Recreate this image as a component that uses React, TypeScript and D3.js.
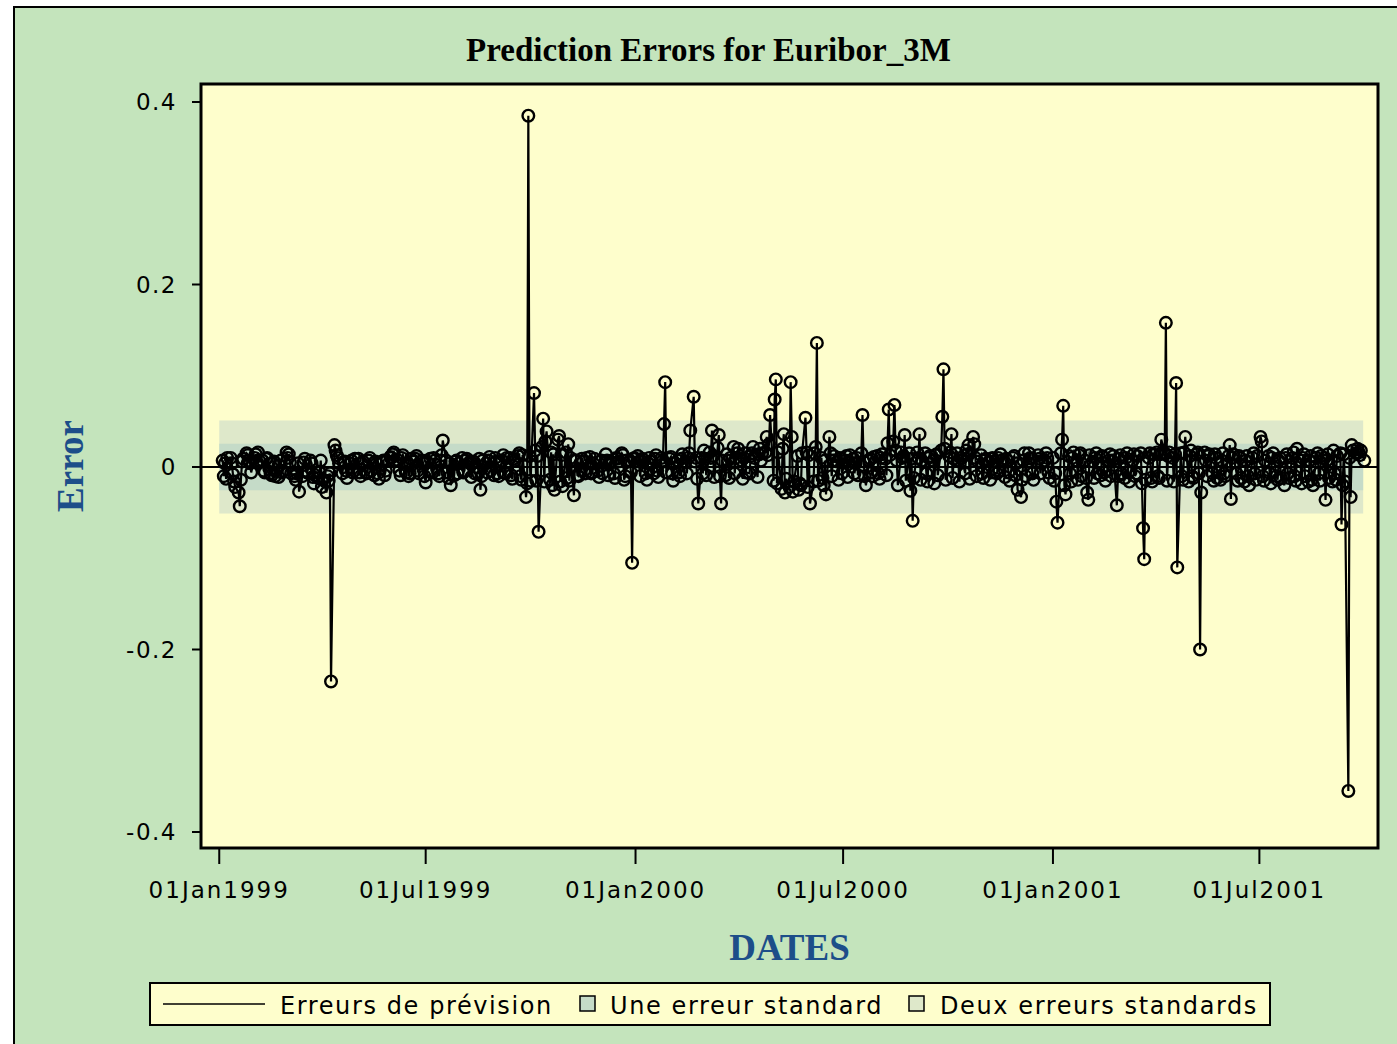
import React from "react";
import * as d3 from "d3";

// ---------- data ----------
// Daily prediction errors, one row per business week (Mon..Fri).
const firstMonday1999 = "1999-01-04";
const weeks1999: number[][] = [
  [.007, -.01, .004, -.013, .01], [.01, .004, -.008, -.016, -.022], [-.028, -.043, -.014, .006, .009],
  [.015, .013, .007, .004, -.006], [.01, .014, .005, .016, .007], [.007, -.004, -.006, .009, .01],
  [-.007, -.009, .004, .006, -.01], [-.011, .002, .007, -.006, -.004], [.016, .01, .014, .005, -.007],
  [-.01, -.014, -.007, .004, -.027], [-.01, .005, .009, -.004, -.006], [.007, .004, -.011, -.018, -.009],
  [-.012, -.006, .007, -.022, -.014], [-.028, -.01, -.015, -.007, -.235], [.024, .018, .013, .01, .004],
  [-.007, .005, .006, -.004, -.012], [.004, .007, -.006, -.004, .009], [.009, -.006, -.01, .004, .006],
  [-.007, -.006, .007, .01, -.004], [-.009, .006, .004, -.007, -.013], [.006, .007, -.009, -.004, .007],
  [.011, .01, .014, .016, .007], [.007, -.004, -.009, .01, .013], [-.006, .004, -.01, -.007, .009],
  [.006, .009, .012, -.004, -.007], [.007, .004, -.01, -.017, .006], [.009, -.004, -.006, .01, .007],
  [-.007, -.01, .007, .013, .029], [.007, -.006, -.012, .004, -.02], [-.009, .006, .007, -.007, .004],
  [.01, -.006, -.004, .007, .009], [.006, -.011, .004, .006, -.007], [-.007, .009, -.025, -.01, .007],
  [.004, -.006, .007, .011, -.004], [-.009, .01, .006, -.007, -.01], [.007, .013, -.006, -.007, .01],
  [.01, -.009, -.013, .009, .007], [.012, .015, -.01, -.014, .013], [-.033, -.018, .385, .012, -.015],
  [.081, .018, -.015, .012, -.071], [.022, .053, -.016, .028, .039], [-.014, .016, -.02, .014, -.025],
  [.03, .034, -.016, .013, -.021], [.016, -.012, .025, -.015, .01], [-.031, .007, .007, -.009, -.01],
  [.009, .006, -.004, -.007, .01], [.011, -.007, -.006, .004, .009], [-.004, -.011, .006, .007, -.007],
  [.014, .007, -.009, .004, .006], [-.007, -.012, .01, .009, .006], [.015, .013, -.014, -.01, .007],
  [.007, -.006, -.105, .009, .01],
];

const firstMonday2000 = "2000-01-03";
const weeks2000: number[][] = [
  [.012, .006, -.01, .007, .009], [-.007, -.014, .004, .01, .006], [-.007, .009, .013, -.004, -.011],
  [.01, .007, .047, .093, -.006], [.009, .011, -.007, -.015, .004], [.007, -.006, -.01, .009, .014],
  [.006, -.007, .01, .015, .04], [.077, .006, .01, -.013, -.04], [.01, -.007, .018, .009, -.009],
  [.016, .01, .04, .012, -.011], [.021, .035, -.01, -.04, .007], [-.009, .014, .007, -.012, .01],
  [.022, -.007, .01, .015, .02], [.007, -.013, .01, .015, -.006], [-.007, .012, .015, .022, .01],
  [-.011, .014, .02, .007, .015], [.016, .033, .013, .025, .057], [-.015, .074, .096, -.018, .016],
  [-.024, .02, .036, -.028, -.013], [-.022, .093, .033, -.027, -.016], [.012, -.025, -.018, -.02, .015],
  [.054, .016, -.022, .013, -.04], [-.016, .015, .022, .136, -.015], [.01, -.012, -.02, .007, -.03],
  [.033, .015, -.01, .007, .012], [.006, -.014, .01, .009, -.007], [.007, .012, -.011, .006, .013],
  [.009, -.007, .004, .01, -.009], [.015, .057, .006, -.01, -.02], [.007, .009, -.006, -.01, .011],
  [.012, -.007, -.013, .01, .014], [.009, -.009, .026, .063, .013], [.028, .068, .018, .007, -.02],
  [.016, .01, .012, .035, -.015], [.015, -.026, .009, -.059, -.012], [.016, .01, .036, -.014, .007],
  [.015, -.007, -.016, .01, .012], [.007, -.018, .013, .014, -.009], [.018, .055, .107, .02, -.014],
  [.012, .016, .036, -.012, .009], [.015, .007, -.016, .01, .01], [-.007, .018, .014, .024, -.013],
  [.033, .025, .01, -.01, .006], [.013, -.007, -.012, .007, .009], [.006, -.014, .009, .01, -.006],
  [-.007, .01, -.004, .014, .007], [-.011, .009, .007, -.006, -.015], [.01, .012, -.009, .004, -.025],
  [-.033, -.014, .007, .015, -.01], [.015, .01, .009, -.007, -.014], [.006, .013, .009, -.007, .004],
  [.007, .015, .01, -.006, -.012],
];

const firstMonday2001 = "2001-01-01";
const weeks2001: number[][] = [
  [.01, -.015, -.007, -.038, -.061], [.015, .03, .067, -.02, -.03], [.012, -.007, -.016, .01, .016],
  [.007, -.014, .013, .015, -.01], [.007, -.012, -.028, -.036, .013], [.006, -.012, .01, .015, -.007],
  [-.009, .012, .011, -.006, -.015], [.007, .014, -.01, .007, .012], [-.042, -.01, .009, .013, -.007],
  [-.012, .01, .015, -.006, -.016], [.007, .014, -.01, -.007, .012], [.015, -.018, -.067, -.101, -.014],
  [.01, .015, -.012, -.016, .014], [.016, -.01, -.012, .014, .03], [.015, .158, -.015, .012, .016],
  [.01, -.016, .014, .092, -.11], [.015, -.01, -.014, .016, .033], [-.016, .012, .018, -.01, -.012],
  [.014, .016, -.007, -.2, -.028], [.016, .007, -.01, .012, .014], [-.007, -.015, .014, .01, -.012],
  [-.014, .007, .015, -.007, -.01], [.012, .024, -.035, .01, .014], [-.007, -.015, .012, .01, -.012],
  [-.016, .007, .012, -.01, -.02], [.01, .015, -.007, -.014, .012], [.033, .028, -.01, -.015, .007],
  [.012, -.007, -.018, .01, .015], [-.01, -.014, .007, .01, -.012], [-.02, .01, .014, -.007, -.012],
  [.01, .016, -.01, -.015, .02], [.007, -.018, .01, .014, -.01], [-.016, .007, .012, -.014, -.02],
  [.01, .015, -.007, -.015, .012], [.01, -.036, .007, .014, -.012], [-.016, .018, -.007, -.014, .012],
  [.015, -.063, -.02, .014, -.016], [-.355, .01, -.033, .024, .018], [.015, .02, .016, .013, .018],
  [.007],
];

const standardError = 0.0255;
const bandStart = "1999-01-01";
const bandEnd = "2001-09-30";
const xDomain = ["1998-12-16", "2001-10-13"];
const xTicks = ["1999-01-01", "1999-07-01", "2000-01-01", "2000-07-01", "2001-01-01", "2001-07-01"];
const yTicks = [-0.4, -0.2, 0, 0.2, 0.4];
const yTickLabels = ["-0.4", "-0.2", "0", "0.2", "0.4"];
const legendLabels = ["Erreurs de prévision", "Une erreur standard", "Deux erreurs standards"];
const titleText = "Prediction Errors for Euribor_3M";

// ---------- styles ----------
const W = 1397;
const H = 1044;
const plot = { left: 201, right: 1378, top: 84, bottom: 848 };
const C = {
  outer: "#C4E4BC",
  plotBg: "#FEFECC",
  band2: "#DEE8CA",
  band1: "#C5DBC8",
  axisLabel: "#1D4E89",
};
const sansFont = "'DejaVu Sans', Verdana, sans-serif";
const serifFont = "'Liberation Serif', 'Times New Roman', serif";

type Pt = { date: Date; value: number };

export default function App() {
  const parse = d3.utcParse("%Y-%m-%d");

  const expand = (monday: string, weeks: number[][]): Pt[] => {
    const start = parse(monday) as Date;
    const out: Pt[] = [];
    weeks.forEach((row, w) =>
      row.forEach((v, i) => out.push({ date: d3.utcDay.offset(start, 7 * w + i), value: v }))
    );
    return out;
  };

  const data: Pt[] = [
    ...expand(firstMonday1999, weeks1999),
    ...expand(firstMonday2000, weeks2000),
    ...expand(firstMonday2001, weeks2001),
  ];

  const x = d3
    .scaleUtc()
    .domain(xDomain.map((d) => parse(d) as Date))
    .range([plot.left, plot.right]);
  const y = d3.scaleLinear().domain([-0.4, 0.4]).range([832, 102]);

  const line = d3
    .line<Pt>()
    .x((d) => x(d.date))
    .y((d) => y(d.value));

  const fmt = d3.utcFormat("%d%b%Y");
  const bx0 = x(parse(bandStart) as Date);
  const bx1 = x(parse(bandEnd) as Date);

  return (
    <svg
      width={W}
      height={H}
      style={{ position: "absolute", left: 0, top: 0, background: "#fff" }}
    >
      <rect x={14} y={7} width={W - 14} height={H - 7} fill={C.outer} />
      <path d={`M14,${H} V7 H${W}`} fill="none" stroke="#000" strokeWidth={2} />

      <text
        x={708.5}
        y={61}
        textAnchor="middle"
        fontFamily={serifFont}
        fontWeight="bold"
        fontSize={33}
        fill="#000"
      >
        {titleText}
      </text>

      <rect
        x={plot.left}
        y={plot.top}
        width={plot.right - plot.left}
        height={plot.bottom - plot.top}
        fill={C.plotBg}
      />

      {/* standard error bands */}
      <rect
        x={bx0}
        y={y(2 * standardError)}
        width={bx1 - bx0}
        height={y(-2 * standardError) - y(2 * standardError)}
        fill={C.band2}
      />
      <rect
        x={bx0}
        y={y(standardError)}
        width={bx1 - bx0}
        height={y(-standardError) - y(standardError)}
        fill={C.band1}
      />

      {/* zero reference */}
      <line x1={plot.left} x2={plot.right} y1={y(0)} y2={y(0)} stroke="#000" strokeWidth={2} />

      {/* series */}
      <path d={line(data) || ""} fill="none" stroke="#000" strokeWidth={2.2} />
      {data.map((d, i) => (
        <circle
          key={i}
          cx={x(d.date)}
          cy={y(d.value)}
          r={5.8}
          fill="none"
          stroke="#000"
          strokeWidth={2.4}
        />
      ))}

      {/* frame */}
      <rect
        x={plot.left}
        y={plot.top}
        width={plot.right - plot.left}
        height={plot.bottom - plot.top}
        fill="none"
        stroke="#000"
        strokeWidth={3}
      />

      {/* y axis */}
      {yTicks.map((t, i) => (
        <g key={t}>
          <line x1={plot.left - 9} x2={plot.left} y1={y(t)} y2={y(t)} stroke="#000" strokeWidth={2} />
          <text
            x={plot.left - 24}
            y={y(t) + 8}
            textAnchor="end"
            fontFamily={sansFont}
            fontSize={23}
            letterSpacing={1.5}
            fill="#000"
          >
            {yTickLabels[i]}
          </text>
        </g>
      ))}

      {/* x axis */}
      {xTicks.map((t) => {
        const xv = x(parse(t) as Date);
        return (
          <g key={t}>
            <line x1={xv} x2={xv} y1={plot.bottom} y2={plot.bottom + 16} stroke="#000" strokeWidth={2} />
            <text
              x={xv}
              y={898}
              textAnchor="middle"
              fontFamily={sansFont}
              fontSize={23}
              letterSpacing={2}
              fill="#000"
            >
              {fmt(parse(t) as Date)}
            </text>
          </g>
        );
      })}

      {/* axis labels */}
      <text
        x={(plot.left + plot.right) / 2}
        y={960}
        textAnchor="middle"
        fontFamily={serifFont}
        fontWeight="bold"
        fontSize={37}
        fill={C.axisLabel}
      >
        DATES
      </text>
      <text
        transform={`translate(83,${(plot.top + plot.bottom) / 2}) rotate(-90)`}
        textAnchor="middle"
        fontFamily={serifFont}
        fontWeight="bold"
        fontSize={37}
        fill={C.axisLabel}
      >
        Error
      </text>

      {/* legend */}
      <rect x={150} y={983} width={1120} height={42} fill={C.plotBg} stroke="#000" strokeWidth={2} />
      <line x1={163} x2={265} y1={1004} y2={1004} stroke="#000" strokeWidth={1.5} />
      <text x={280} y={1014} fontFamily={sansFont} fontSize={24} letterSpacing={1.6} fill="#000">
        {legendLabels[0]}
      </text>
      <rect x={580} y={996} width={15} height={15} fill={C.band1} stroke="#000" strokeWidth={1.5} />
      <text x={610} y={1014} fontFamily={sansFont} fontSize={24} letterSpacing={1.6} fill="#000">
        {legendLabels[1]}
      </text>
      <rect x={909} y={996} width={15} height={15} fill={C.band2} stroke="#000" strokeWidth={1.5} />
      <text x={940} y={1014} fontFamily={sansFont} fontSize={24} letterSpacing={1.6} fill="#000">
        {legendLabels[2]}
      </text>
    </svg>
  );
}
